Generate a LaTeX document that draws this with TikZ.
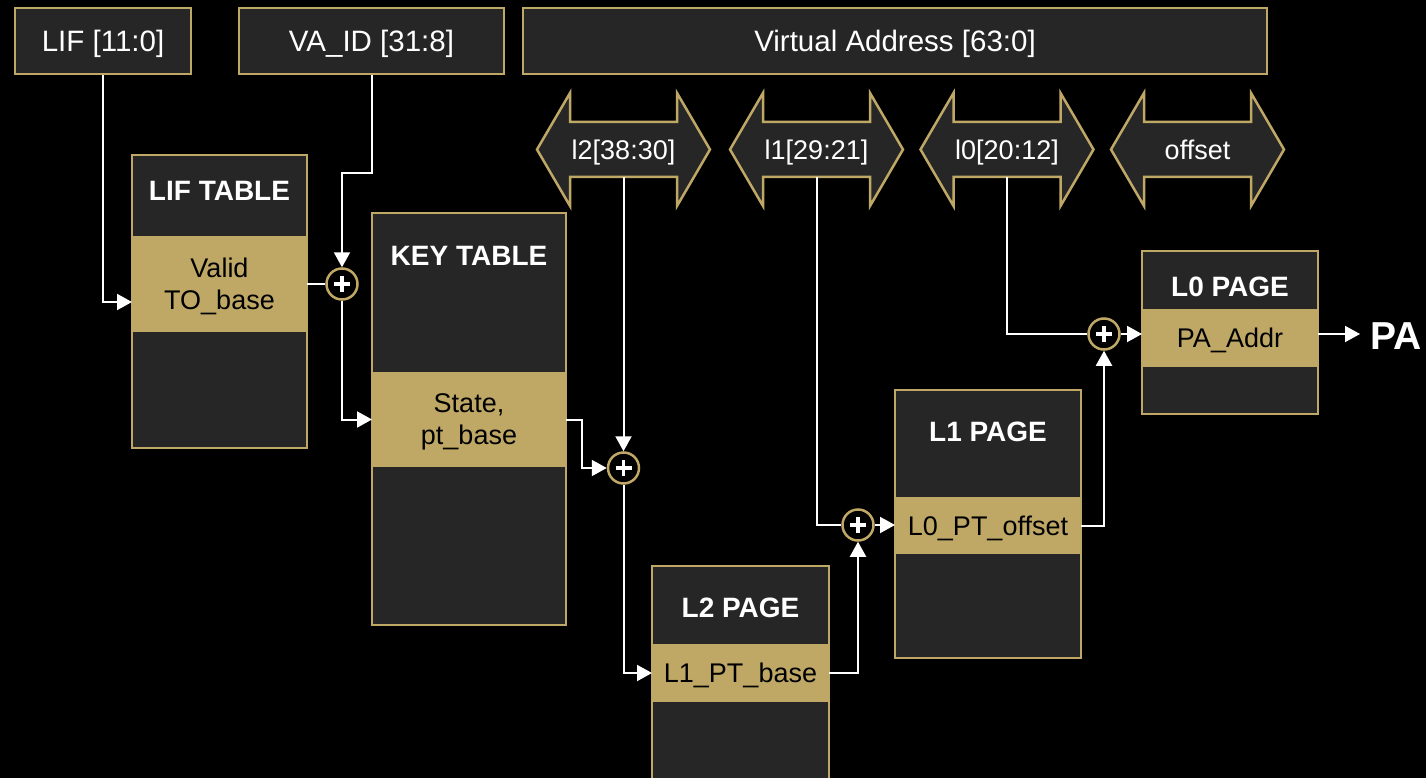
\documentclass[tikz,border=0pt]{standalone}
\usepackage{fontspec}
\setmainfont{Liberation Sans}
\usetikzlibrary{arrows.meta,calc,backgrounds}
\definecolor{gold}{RGB}{191,168,102}
\definecolor{panel}{RGB}{38,38,38}
\tikzset{
  frame/.style={rectangle, draw=gold, line width=2.5pt, fill=panel, inner sep=0pt, outer sep=0pt, anchor=north west},
  band/.style={rectangle, fill=gold, inner sep=0pt, outer sep=0pt, anchor=north west, text=black, align=center,
    text depth=0pt, font=\fontsize{27}{32}\selectfont},
  title/.style={text=white, inner sep=0pt, text depth=0pt, font=\bfseries\fontsize{28}{32}\selectfont},
  field/.style={rectangle, draw=gold, line width=2.5pt, fill=panel, text=white, inner sep=0pt,
    minimum height=66pt, text depth=0pt, font=\fontsize{29.5}{34}\selectfont},
  bits/.style={text=white, inner sep=0pt, outer sep=0pt, minimum width=107pt, minimum height=55pt,
    text depth=0pt, font=\fontsize{27}{32}\selectfont},
  bitshape/.style={fill=panel, draw=gold, line width=2.5pt, line join=miter},
  adder/.style={circle, draw=gold, line width=2.5pt, fill=black, minimum size=31pt, inner sep=0pt,
    path picture={\draw[white, line width=3.2pt]
      ($(path picture bounding box.center)+(-8,0)$) -- ($(path picture bounding box.center)+(8,0)$)
      ($(path picture bounding box.center)+(0,-8)$) -- ($(path picture bounding box.center)+(0,8)$);}},
  conn/.style={draw=white, line width=2pt},
  tip/.style={-{Triangle[length=15pt,width=16pt]}},
}
% outline of a double-headed bit-field arrow around a label node
\newcommand\bitarrow[1]{%
  \path[bitshape] (#1.north west) -- (#1.north east) -- ++(0,-29) -- ($(#1.east)+(33,0)$)
    -- ($(#1.south east)+(0,29)$) -- (#1.south east) -- (#1.south west) -- ++(0,29)
    -- ($(#1.west)+(-33,0)$) -- ($(#1.north west)+(0,-29)$) -- cycle;}
\begin{document}
\begin{tikzpicture}[x=1pt, y=-1pt]
\useasboundingbox (0,0) rectangle (1426,778);
\begin{scope}[on background layer]
  \fill[black] (0,0) rectangle (1426,778);
\end{scope}
\clip (0,0) rectangle (1426,778);

% input fields
\node[field, minimum width=176pt] (liftop) at (103,41) {LIF [11:0]};
\node[field, minimum width=265pt] (vaid) at (371.5,41) {VA\_ID [31:8]};
\node[field, minimum width=744pt] (va) at (895,41) {Virtual Address [63:0]};

% bit fields of the virtual address
\node[bits] (a2) at (623.5,149.5) {l2[38:30]};
\node[bits] (a1) at (816.5,149.5) {l1[29:21]};
\node[bits] (a0) at (1007,149.5) {l0[20:12]};
\node[bits] (aoff) at (1197.5,149.5) {offset};
\begin{scope}[on background layer]
  \bitarrow{a2}\bitarrow{a1}\bitarrow{a0}\bitarrow{aoff}
\end{scope}

% LIF table
\node[frame, minimum width=175pt, minimum height=293pt] (lif) at (132,155) {};
\node[band, minimum width=175pt, minimum height=96pt] (lifband) at (132,236) {Valid\\TO\_base};
\node[title] (liftitle) at (219.5,191) {LIF TABLE};

% key table
\node[frame, minimum width=194pt, minimum height=412pt] (key) at (372,213) {};
\node[band, minimum width=194pt, minimum height=95pt] (keyband) at (372,372) {State,\\pt\_base};
\node[title] (keytitle) at (469,256) {KEY TABLE};

% L2 page
\node[frame, minimum width=177pt, minimum height=260pt] (l2) at (652,566) {};
\node[band, minimum width=177pt, minimum height=58pt] (l2band) at (652,644) {L1\_PT\_base};
\node[title] (l2title) at (740.5,608) {L2 PAGE};

% L1 page
\node[frame, minimum width=186pt, minimum height=268pt] (l1) at (895,390) {};
\node[band, minimum width=186pt, minimum height=57pt] (l1band) at (895,497) {L0\_PT\_offset};
\node[title] (l1title) at (988,432) {L1 PAGE};

% L0 page
\node[frame, minimum width=176pt, minimum height=163pt] (l0) at (1142,251) {};
\node[band, minimum width=176pt, minimum height=58pt] (l0band) at (1142,309) {PA\_Addr};
\node[title] (l0title) at (1230,287) {L0 PAGE};

% adders
\node[adder] (p1) at (342,284) {};
\node[adder] (p2) at (623.5,468) {};
\node[adder] (p3) at (858,525) {};
\node[adder] (p4) at (1104,334) {};

\node[text=white, inner sep=0pt, anchor=west, text depth=0pt, font=\bfseries\fontsize{39}{42}\selectfont] (pa) at (1370,336) {PA};

% connectors
\draw[conn, tip] (liftop.south) |- ([yshift=-18pt]lifband.west);
\draw[conn, tip] (vaid.south) -- ++(0,98) -| (p1.north);
\draw[conn] (lifband.east) -- (p1.west);
\draw[conn, tip] (p1.south) |- (keyband.west);
\draw[conn, tip] (keyband.east) -- ++(16,0) |- (p2.west);
\draw[conn, tip] (a2.south) -- (p2.north);
\draw[conn, tip] (p2.south) |- (l2band.west);
\draw[conn, tip] (l2band.east) -| (p3.south);
\draw[conn] (a1.south) |- (p3.west);
\draw[conn, tip] (p3.east) -- (p3.east -| l1band.west);
\draw[conn, tip] (l1band.east) -| (p4.south);
\draw[conn] (a0.south) |- (p4.west);
\draw[conn, tip] (p4.east) -- (p4.east -| l0band.west);
\draw[conn, tip] (p4 -| l0band.east) -- ([xshift=-10pt]pa.west |- p4);
\end{tikzpicture}
\end{document}
